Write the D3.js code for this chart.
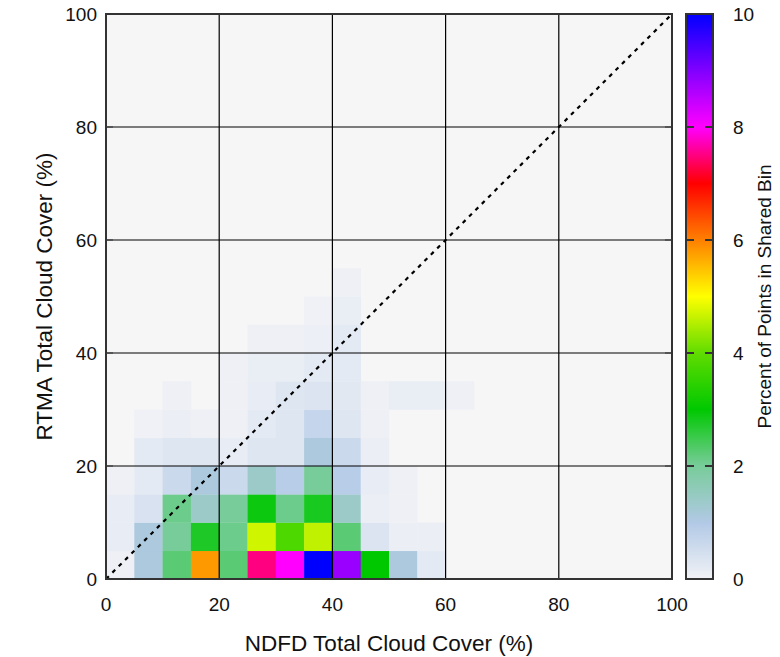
<!DOCTYPE html>
<html lang="en">
<head>
<meta charset="UTF-8">
<title>NDFD vs RTMA cloud cover</title>
<script src="https://d3js.org/d3.v7.min.js"></script>
<style>
  body { margin: 0; background: #fff; }
  text { font-family: "Liberation Sans", Arial, sans-serif; fill: #111; }
</style>
</head>
<body>
<svg id="chart" width="780" height="657"></svg>
<script>
// bin edges (5% bins) and percent of points per bin, rows go from RTMA 0-5 upward
const binSize = 5;
const xTicks = [0, 20, 40, 60, 80, 100];
const yTicks = [0, 20, 40, 60, 80, 100];
const cbarTicks = [0, 2, 4, 6, 8, 10];

const row0  = [0.05, 1.1, 2.25, 5.8, 2.25, 7.5, 8.0, 10.0, 8.8, 3.0, 1.1, 0.2];
const row1  = [0.15, 1.1, 2.0, 2.75, 2.1, 4.7, 3.8, 4.6, 2.25, 0.35, 0.1, 0.1];
const row2  = [0.15, 0.4, 2.1, 1.4, 2.0, 2.9, 2.1, 2.8, 1.4, 0.1, 0.05];
const row3  = [0.05, 0.2, 0.6, 1.1, 0.6, 1.4, 0.9, 2.0, 0.9, 0.15, 0.05];
const row4  = [0, 0.2, 0.3, 0.3, 0.15, 0.3, 0.3, 1.1, 0.6, 0.1];
const row5  = [0, 0.02, 0.1, 0.05, 0.05, 0.2, 0.3, 0.7, 0.3, 0.05];
const row6  = [0, 0, 0.05, 0, 0.05, 0.15, 0.3, 0.35, 0.25, 0.05, 0.12, 0.12, 0.05];
const row7  = [0, 0, 0, 0, 0.05, 0.12, 0.12, 0.2, 0.2];
const row8  = [0, 0, 0, 0, 0, 0.05, 0.05, 0.08, 0.2];
const row9  = [0, 0, 0, 0, 0, 0, 0, 0.03, 0.12];
const row10 = [0, 0, 0, 0, 0, 0, 0, 0, 0.05];
const rows = [row0, row1, row2, row3, row4, row5, row6, row7, row8, row9, row10];

// colour map
const cmapStops = [0, 1, 2, 3, 4, 5, 6, 7, 8, 9, 10];
const cmapColors = ["#f1f2f6", "#b2c9e6", "#78cc9a", "#00c800", "#60dc00", "#ffff00",
                    "#ff8000", "#ff0000", "#ff00ff", "#8000ff", "#0000ff"];

const svg = d3.select("#chart");
const m = { left: 106, right: 672, top: 14, bottom: 579 };
const cb = { left: 686, right: 713 };

const x = d3.scaleLinear().domain([0, 100]).range([m.left, m.right]);
const y = d3.scaleLinear().domain([0, 100]).range([m.bottom, m.top]);
const color = d3.scaleLinear().domain(cmapStops).range(cmapColors).interpolate(d3.interpolateRgb);
const cy = d3.scaleLinear().domain([0, 10]).range([m.bottom, m.top]);

// plot background
svg.append("rect")
    .attr("x", m.left).attr("y", m.top)
    .attr("width", m.right - m.left).attr("height", m.bottom - m.top)
    .attr("fill", "#f6f6f6");

// cells
const cells = [];
rows.forEach((r, j) => r.forEach((v, i) => { if (v > 0) cells.push({ i, j, v }); }));

svg.append("g").selectAll("rect")
    .data(cells)
    .join("rect")
    .attr("x", d => x(d.i * binSize))
    .attr("y", d => y((d.j + 1) * binSize))
    .attr("width", x(binSize) - x(0) + 0.3)
    .attr("height", y(0) - y(binSize) + 0.3)
    .attr("fill", d => color(d.v));

// grid lines
const grid = svg.append("g").attr("stroke", "#000").attr("stroke-width", 1.2);
grid.selectAll("line.v")
    .data(xTicks.slice(1, -1))
    .join("line")
    .attr("x1", d => x(d)).attr("x2", d => x(d))
    .attr("y1", m.top).attr("y2", m.bottom);
grid.selectAll("line.h")
    .data(yTicks.slice(1, -1))
    .join("line")
    .attr("class", "h")
    .attr("x1", m.left).attr("x2", m.right)
    .attr("y1", d => y(d)).attr("y2", d => y(d));

// small inner ticks on the frame
const tk = svg.append("g").attr("stroke", "#555").attr("stroke-width", 2);
yTicks.forEach(t => {
    tk.append("line").attr("x1", m.left).attr("x2", m.left + 7).attr("y1", y(t)).attr("y2", y(t));
    tk.append("line").attr("x1", m.right - 7).attr("x2", m.right).attr("y1", y(t)).attr("y2", y(t));
});

// 1:1 line
svg.append("line")
    .attr("x1", x(0)).attr("y1", y(0))
    .attr("x2", x(100)).attr("y2", y(100))
    .attr("stroke", "#000")
    .attr("stroke-width", 2.2)
    .attr("stroke-dasharray", "4,5");

// frame
svg.append("rect")
    .attr("x", m.left).attr("y", m.top)
    .attr("width", m.right - m.left).attr("height", m.bottom - m.top)
    .attr("fill", "none").attr("stroke", "#333").attr("stroke-width", 2);

// tick labels
svg.append("g").selectAll("text")
    .data(xTicks)
    .join("text")
    .attr("x", d => x(d))
    .attr("y", 611)
    .attr("text-anchor", "middle")
    .attr("font-size", 19)
    .text(d => d);

svg.append("g").selectAll("text")
    .data(yTicks)
    .join("text")
    .attr("x", 97)
    .attr("y", d => y(d) + 7)
    .attr("text-anchor", "end")
    .attr("font-size", 19)
    .text(d => d);

// axis titles
svg.append("text")
    .attr("x", (m.left + m.right) / 2)
    .attr("y", 651)
    .attr("text-anchor", "middle")
    .attr("font-size", 22.5)
    .text("NDFD Total Cloud Cover (%)");

svg.append("text")
    .attr("transform", `translate(52,${(m.top + m.bottom) / 2}) rotate(-90)`)
    .attr("text-anchor", "middle")
    .attr("font-size", 22.5)
    .text("RTMA Total Cloud Cover (%)");

// colour bar
const grad = svg.append("defs").append("linearGradient")
    .attr("id", "cbar")
    .attr("x1", 0).attr("y1", 1).attr("x2", 0).attr("y2", 0);
grad.selectAll("stop")
    .data(cmapStops)
    .join("stop")
    .attr("offset", d => d / 10)
    .attr("stop-color", d => color(d));

svg.append("rect")
    .attr("x", cb.left).attr("y", m.top)
    .attr("width", cb.right - cb.left).attr("height", m.bottom - m.top)
    .attr("fill", "url(#cbar)")
    .attr("stroke", "#333").attr("stroke-width", 2);

const ctk = svg.append("g").attr("stroke", "#333").attr("stroke-width", 2);
cbarTicks.slice(1, -1).forEach(t => {
    ctk.append("line").attr("x1", cb.left).attr("x2", cb.left + 8).attr("y1", cy(t)).attr("y2", cy(t));
    ctk.append("line").attr("x1", cb.right - 8).attr("x2", cb.right).attr("y1", cy(t)).attr("y2", cy(t));
});

svg.append("g").selectAll("text")
    .data(cbarTicks)
    .join("text")
    .attr("x", 733)
    .attr("y", d => cy(d) + 7)
    .attr("font-size", 19)
    .text(d => d);

svg.append("text")
    .attr("transform", `translate(771,${(m.top + m.bottom) / 2}) rotate(-90)`)
    .attr("text-anchor", "middle")
    .attr("font-size", 19)
    .text("Percent of Points in Shared Bin");
</script>
</body>
</html>
